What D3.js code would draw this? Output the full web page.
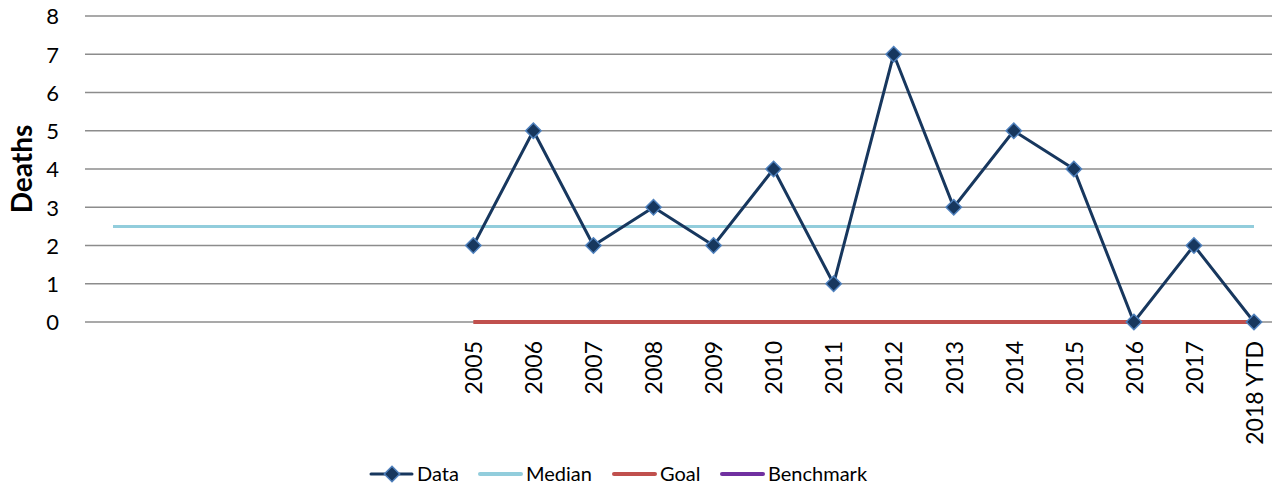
<!DOCTYPE html>
<html>
<head>
<meta charset="utf-8">
<script src="https://cdn.jsdelivr.net/npm/d3@7/dist/d3.min.js"></script>
<style>
  body { margin: 0; background: #fff; }
  svg { display: block; font-family: Lato, "Open Sans", sans-serif; }
</style>
</head>
<body>
<svg></svg>
<script>
// categories: six empty slots before 2005, as in the sheet
let categories = ['c1', 'c2', 'c3', 'c4', 'c5', 'c6',
  '2005', '2006', '2007', '2008', '2009', '2010', '2011', '2012',
  '2013', '2014', '2015', '2016', '2017', '2018 YTD']
let years = ['2005', '2006', '2007', '2008', '2009', '2010', '2011', '2012',
  '2013', '2014', '2015', '2016', '2017', '2018 YTD']
let deaths = [2, 5, 2, 3, 2, 4, 1, 7, 3, 5, 4, 0, 2, 0]
let median = 2.5
let goal = 0
let yTicks = [0, 1, 2, 3, 4, 5, 6, 7, 8]

let width = 1282
let height = 491
let plotLeft = 85
let plotRight = 1272
let plotTop = 16
let plotBottom = 322

let svg = d3.select('svg')
    .attr('width', width)
    .attr('height', height)

let xScale = d3.scalePoint()
    .domain(categories)
    .range([113, 1254])

let yScale = d3.scaleLinear()
    .domain([0, 8])
    .range([plotBottom, plotTop])

// gridlines
svg.append('g')
    .selectAll('line')
    .data(yTicks)
    .enter()
    .append('line')
    .attr('x1', plotLeft)
    .attr('x2', plotRight)
    .attr('y1', d => yScale(d))
    .attr('y2', d => yScale(d))
    .attr('stroke', '#8c8c8c')
    .attr('stroke-width', 1.5)

// y axis labels
let yAxis = d3.axisLeft(yScale).tickValues(yTicks).tickSize(0).tickPadding(0)
let yg = svg.append('g')
    .attr('transform', 'translate(59,0)')
    .call(yAxis)
yg.select('.domain').remove()
yg.selectAll('text')
    .attr('font-size', 22)
    .attr('font-family', 'Lato')
    .attr('fill', '#000')
    .attr('dy', '0.36em')

svg.append('text')
    .attr('transform', 'translate(32,169) rotate(-90)')
    .attr('text-anchor', 'middle')
    .attr('font-size', 28)
    .attr('font-weight', 'bold')
    .text('Deaths')

// x axis labels
let xAxis = d3.axisBottom(xScale)
    .tickValues(years)
    .tickSize(0)
    .tickPadding(0)
let xg = svg.append('g')
    .attr('transform', 'translate(0,' + plotBottom + ')')
    .call(xAxis)
xg.select('.domain').remove()
xg.selectAll('text')
    .attr('font-size', 23)
    .attr('font-family', 'Lato')
    .attr('fill', '#000')
    .attr('text-anchor', 'end')
    .attr('transform', 'rotate(-90)')
    .attr('x', -19)
    .attr('y', 0)
    .attr('dy', '0.36em')

// median line across all categories
svg.append('line')
    .attr('x1', xScale(categories[0]))
    .attr('x2', xScale(categories[categories.length - 1]))
    .attr('y1', yScale(median))
    .attr('y2', yScale(median))
    .attr('stroke', '#92cddc')
    .attr('stroke-width', 3)

// goal line
svg.append('line')
    .attr('x1', xScale(years[0]))
    .attr('x2', xScale(years[years.length - 1]))
    .attr('y1', yScale(goal))
    .attr('y2', yScale(goal))
    .attr('stroke', '#c0504d')
    .attr('stroke-width', 4)

// data line
let values = years.map((y, i) => [y, deaths[i]])
let line = d3.line()
    .x(d => xScale(d[0]))
    .y(d => yScale(d[1]))
svg.append('path')
    .datum(values)
    .attr('d', line)
    .attr('fill', 'none')
    .attr('stroke', '#17375e')
    .attr('stroke-width', 3)

let diamond = d3.symbol().type(d3.symbolDiamond2).size(150)
svg.selectAll('.marker')
    .data(values)
    .enter()
    .append('path')
    .attr('class', 'marker')
    .attr('d', diamond)
    .attr('transform', d => 'translate(' + xScale(d[0]) + ',' + yScale(d[1]) + ')')
    .attr('fill', '#17375e')
    .attr('stroke', '#4f81bd')
    .attr('stroke-width', 1.5)

// legend
let legendItems = [
    {name: 'Data', color: '#17375e', x: 371, marker: true, w: 3},
    {name: 'Median', color: '#92cddc', x: 480, w: 4},
    {name: 'Goal', color: '#c0504d', x: 614, w: 4},
    {name: 'Benchmark', color: '#7030a0', x: 722, w: 4}
]
let lg = svg.append('g')
let item = lg.selectAll('g')
    .data(legendItems)
    .enter()
    .append('g')
    .attr('transform', d => 'translate(' + d.x + ',474)')
item.append('line')
    .attr('x1', 0)
    .attr('x2', 41)
    .attr('stroke', d => d.color)
    .attr('stroke-width', d => d.w)
    .attr('stroke-linecap', 'round')
item.filter(d => d.marker)
    .append('path')
    .attr('d', diamond)
    .attr('transform', 'translate(21,0)')
    .attr('fill', '#17375e')
    .attr('stroke', '#4f81bd')
    .attr('stroke-width', 1.5)
item.append('text')
    .attr('x', 46)
    .attr('dy', '0.36em')
    .attr('font-size', 20)
    .text(d => d.name)
</script>
</body>
</html>
